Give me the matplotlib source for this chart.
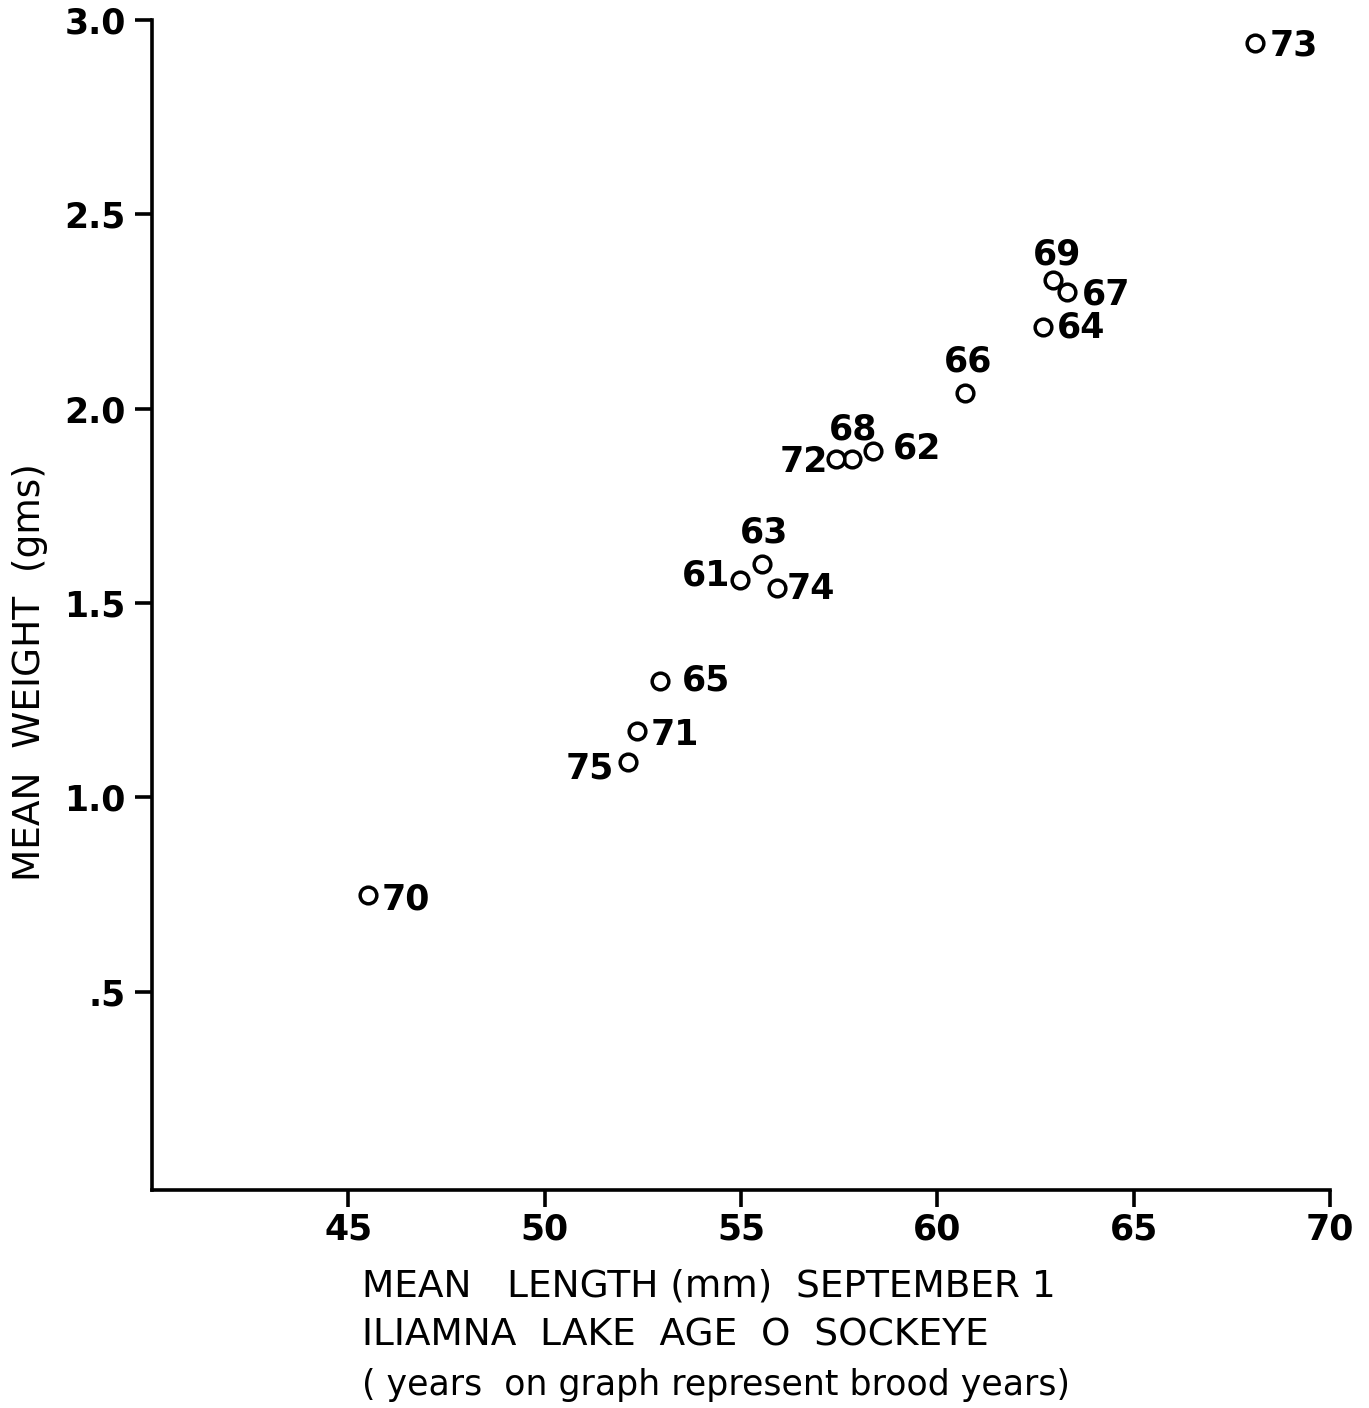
import numpy as np
import matplotlib.pyplot as plt

# Iliamna Lake age 0 sockeye, mean size on September 1, by brood year
years = ["61", "62", "63", "64", "65", "66", "67", "68", "69", "70",
         "71", "72", "73", "74", "75"]
length_mm = [54.97, 58.36, 55.53, 62.69, 52.94, 60.70, 63.30, 57.83, 62.94, 45.50,
             52.35, 57.42, 68.09, 55.92, 52.12]
weight_g = [1.56, 1.89, 1.60, 2.21, 1.30, 2.04, 2.30, 1.87, 2.33, 0.75,
            1.17, 1.87, 2.94, 1.54, 1.09]

x_ticks = [45, 50, 55, 60, 65, 70]
y_ticks = [0.5, 1.0, 1.5, 2.0, 2.5, 3.0]
y_ticklabels = [".5", "1.0", "1.5", "2.0", "2.5", "3.0"]

# label placement around each circle: (dx px, dy px, horizontal alignment)
label_pos = {
    "61": (-10, 4, "right"), "62": (20, 3, "left"), "63": (2, 32, "center"),
    "64": (14, 0, "left"), "65": (22, 0, "left"), "66": (3, 32, "center"),
    "67": (15, -2, "left"), "68": (1, 30, "center"), "69": (4, 26, "center"),
    "70": (14, -5, "left"), "71": (14, -4, "left"), "72": (-8, -3, "right"),
    "73": (15, -2, "left"), "74": (10, -1, "left"), "75": (-14, -6, "right"),
}

plt.rcParams['font.family'] = ['DejaVu Sans']

fig = plt.figure(figsize=(13.69, 14.08), dpi=100)
ax = fig.add_axes([0.111, 0.1548, 0.8605, 0.8310])

ax.plot(length_mm, weight_g, "o", mfc="white", mec="black", ms=12, mew=2.5,
        linestyle="none", zorder=3)

px = 72.0 / 100
for yr, x, y in zip(years, length_mm, weight_g):
    dx, dy, ha = label_pos[yr]
    ax.annotate(yr, (x, y), xytext=(dx * px, dy * px), textcoords="offset points",
                ha=ha, va="center", fontsize=25, fontweight="bold")

ax.set_xlim(40, 70)
ax.set_ylim(-0.01, 3.0)
ax.set_xticks(x_ticks)
ax.set_yticks(y_ticks)
ax.set_yticklabels(y_ticklabels)

for side in ["top", "right"]:
    ax.spines[side].set_visible(False)
for side in ["left", "bottom"]:
    ax.spines[side].set_linewidth(2.6)
ax.tick_params(axis="both", direction="out", length=12, width=2.6,
               labelsize=25)
ax.tick_params(axis="x", pad=4)
ax.tick_params(axis="y", pad=7)
for lbl in ax.get_xticklabels() + ax.get_yticklabels():
    lbl.set_fontweight("bold")

ax.set_ylabel("MEAN  WEIGHT  (gms)", fontsize=27)
ax.yaxis.set_label_coords(-0.088, 0.443)

fig.text(0.2645, 0.0866, "MEAN   LENGTH (mm)  SEPTEMBER 1", fontsize=27, va="center")
fig.text(0.2645, 0.0518, "ILIAMNA  LAKE  AGE  O  SOCKEYE", fontsize=27, va="center")
fig.text(0.2645, 0.0163, "( years  on graph represent brood years)", fontsize=25,
         va="center")

fig.savefig("out.png", dpi=100, facecolor="white")
